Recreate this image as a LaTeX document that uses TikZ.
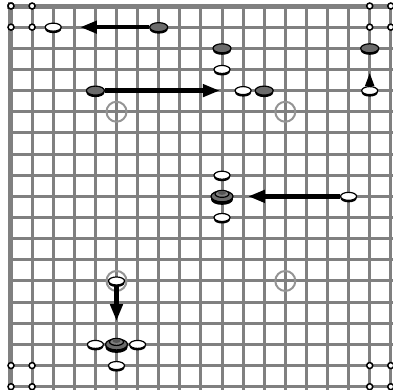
\documentclass[tikz,border=0pt]{standalone}
\usetikzlibrary{shapes.geometric,arrows.meta,shadows}
\definecolor{gridgray}{gray}{0.5}
\definecolor{ringgray}{gray}{0.58}
\definecolor{stonegray}{gray}{0.42}
\definecolor{topgray}{gray}{0.5}
\tikzset{
  gridline/.style={draw=gridgray, line width=3pt},
  borderline/.style={draw=gridgray, line width=5pt},
  hoshi/.style={circle, draw=ringgray, line width=2pt, minimum size=20pt, inner sep=0pt},
  cornermark/.style={circle, draw=black, line width=1.5pt, fill=white, minimum size=6pt, inner sep=0pt},
  wstone/.style={ellipse, draw=black, line width=1.2pt, fill=white, minimum width=16pt, minimum height=8pt, inner sep=0pt,
    general shadow={fill=black, shadow xshift=0pt, shadow yshift=-2pt}},
  bstone/.style={wstone, fill=stonegray, minimum width=18pt, minimum height=9pt},
  stackstone/.style={wstone, fill=stonegray, minimum width=22pt, minimum height=11pt,
    general shadow={fill=black, shadow xshift=0pt, shadow yshift=-3pt}},
  stacktop/.style={ellipse, draw=black, line width=1.2pt, fill=topgray, minimum width=14pt, minimum height=7pt, inner sep=0pt},
  stackcap/.style={ellipse, fill=stonegray!80!black, minimum width=8pt, minimum height=4pt, inner sep=0pt},
  arr/.style={line width=4.5pt, -{Triangle[length=17pt,width=12pt]}},
  smallarr/.style={line width=2pt, -{Triangle[length=13pt,width=9pt]}},
}
\begin{document}
\begin{tikzpicture}[x=21.1pt,y=-21.15pt]
\useasboundingbox (-0.5213,-0.2837) rectangle (18.1043,18.1087);
% grid
\foreach \i in {1,...,18} {
  \draw[gridline] (\i,0) -- (\i,18.2);
  \draw[gridline] (0,\i) -- (18.2,\i);
}
\draw[borderline] (0,-0.2) -- (0,18.2);
\draw[borderline] (-0.2,0) -- (18.2,0);
% star points
\node[hoshi] (h1) at (5,5) {};
\node[hoshi] (h2) at (13,5) {};
\node[hoshi] (h3) at (13,13) {};
\node[hoshi] (h4) at (5,13) {};
% corner marks
\foreach \cx/\cy [count=\k] in {0/0,1/0,0/1,1/1,17/0,18/0,17/1,18/1,0/17,1/17,0/18,1/18,17/17,18/17,17/18,18/18}
  \node[cornermark] (c\k) at (\cx,\cy) {};
% stones
\node[wstone] (w1) at (2,1) {};
\node[bstone] (b1) at (7,1) {};
\node[bstone] (b2) at (10,2) {};
\node[wstone] (w2) at (10,3) {};
\node[bstone] (b3) at (4,4) {};
\node[wstone] (w3) at (11,4) {};
\node[bstone] (b4) at (12,4) {};
\node[bstone] (b5) at (17,2) {};
\node[wstone] (w4) at (17,4) {};
\node[wstone] (w5) at (10,8) {};
\node[stackstone] (s1) at (10,9) {};
\node[stacktop] (s1t) at ([yshift=2.5pt]s1.center) {};
\node[stackcap] (s1c) at ([yshift=3.5pt]s1.center) {};
\node[wstone] (w6) at (10,10) {};
\node[wstone] (w7) at (16,9) {};
\node[wstone] (w8) at (5,13) {};
\node[stackstone] (s2) at (5,16) {};
\node[stacktop] (s2t) at ([yshift=2.5pt]s2.center) {};
\node[stackcap] (s2c) at ([yshift=3.5pt]s2.center) {};
\node[wstone] (w9) at (4,16) {};
\node[wstone] (w10) at (6,16) {};
\node[wstone] (w11) at (5,17) {};
% arrow ends
\coordinate (t1) at (3.27,1);
\coordinate (t2) at (9.9,4);
\coordinate (t3) at (17,3.17);
\coordinate (t4) at (11.23,9);
\coordinate (t5) at (5,14.9);
% arrows
\draw[arr] (b1) -- (t1);
\draw[arr] (b3) -- (t2);
\draw[smallarr] (w4) -- (t3);
\draw[arr] (w7) -- (t4);
\draw[arr] (w8) -- (t5);
\end{tikzpicture}
\end{document}
